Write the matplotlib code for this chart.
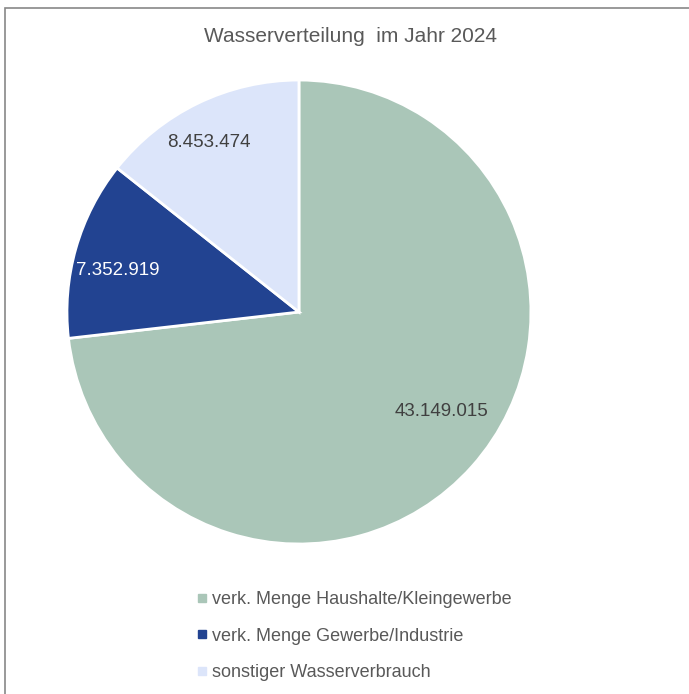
import matplotlib.pyplot as plt
from matplotlib.lines import Line2D
from matplotlib.patches import Rectangle
import numpy as np

plt.rcParams['font.family'] = ['Liberation Sans', 'DejaVu Sans']

categories = ['verk. Menge Haushalte/Kleingewerbe',
              'verk. Menge Gewerbe/Industrie',
              'sonstiger Wasserverbrauch']
values = [43149015, 7352919, 8453474]
value_labels = ['43.149.015', '7.352.919', '8.453.474']
colors = ['#aac6b8', '#224391', '#dce5fa']
label_colors = ['#404040', '#ffffff', '#404040']
# label placement (radius fraction, angle in degrees) as Excel's best fit
label_pos = [(0.75, -35.0), (0.80, 167.0), (0.83, 118.0)]

fig = plt.figure(figsize=(6.89, 6.94), dpi=100)
ax = fig.add_axes([0.0972, 0.2161, 0.6734, 0.6686])

wedges, _ = ax.pie(values, colors=colors, startangle=90, counterclock=False,
                   radius=1, wedgeprops=dict(edgecolor='white', linewidth=2))
ax.set_xlim(-1, 1)
ax.set_ylim(-1, 1)

for txt, col, (r, ang) in zip(value_labels, label_colors, label_pos):
    a = np.deg2rad(ang)
    ax.text(r * np.cos(a), r * np.sin(a), txt, ha='center', va='center',
            fontsize=13.5, color=col)

fig.text(0.5 * (204 + 498) / 689, 1 - 37 / 694, 'Wasserverteilung  im Jahr 2024',
         ha='center', va='center', fontsize=15, color='#595959')

handles = [Line2D([], [], marker='s', linestyle='none', markersize=6,
                  markerfacecolor=c, markeredgecolor=c) for c in colors]
fig.legend(handles, categories, loc='upper left', bbox_to_anchor=(180 / 689, 1 - 575 / 694),
           frameon=False, fontsize=13, labelcolor='#595959', handlelength=0.6,
           handletextpad=0.3, labelspacing=1.08)

fig.patches.append(Rectangle((5 / 689, -0.1), 1.2, 1 - 8 / 694 + 0.1,
                             transform=fig.transFigure, fill=False,
                             edgecolor='#888888', linewidth=1.2))

fig.savefig('out.png', dpi=100)
